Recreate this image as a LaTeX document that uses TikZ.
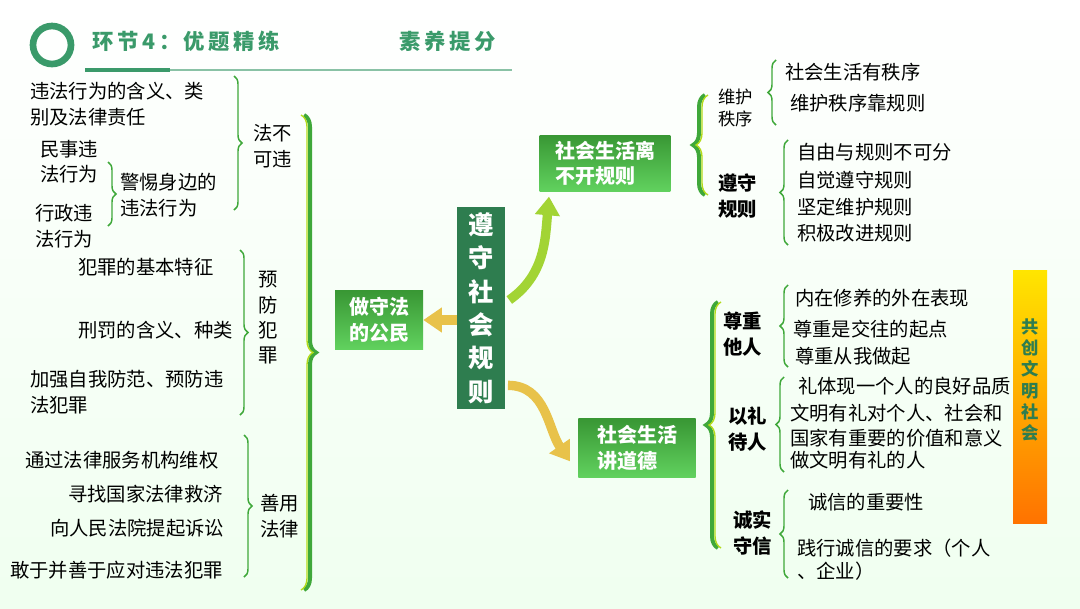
\documentclass[tikz,border=0pt]{standalone}
\usepackage{fontspec}
\setmainfont{Noto Sans CJK SC}
\usetikzlibrary{decorations.pathreplacing,arrows.meta,shadings}
\definecolor{dg}{HTML}{2E7D4F}
\definecolor{mg}{HTML}{3FA83A}
\definecolor{hg}{HTML}{3A9A6A}
\definecolor{gold}{HTML}{E8C24A}
\tikzset{
 txt/.style={anchor=west,font=\fontsize{14.5}{19}\selectfont,inner sep=0pt,align=left},
 btxt/.style={txt,font=\fontsize{14.5}{19}\selectfont\bfseries},
 brR/.style={decorate,decoration={brace,amplitude=6pt},draw=mg,line width=1.1pt},
 bigbr/.style={decorate,decoration={brace,amplitude=9pt},draw=mg,line width=3pt},
 bigbry/.style={decorate,decoration={brace,amplitude=9pt},draw=yellow!70!green,line width=1pt},
 gbox/.style={inner sep=3pt,text=white,font=\fontsize{15}{19}\selectfont\bfseries,align=left,top color=mg!90!black,bottom color=mg!70!green!75,draw=none},
 garrow/.style={line width=7pt,draw=gold,-{Triangle[width=18pt,length=14pt]}},
}
\begin{document}
\begin{tikzpicture}[x=0.75pt,y=-0.75pt]
\useasboundingbox (0,0) rectangle (1080,608);
\shade[top color=white,bottom color=green!6] (0,0) rectangle (1080,608);
% header
\draw[hg,line width=5pt] (52,45) circle (19);
\node[anchor=west,text=hg,font=\fontsize{16}{18}\selectfont\bfseries] (t1) at (88,41) {环\,节\,4\,：\,优\,题\,精\,练};
\node[anchor=west,text=hg,font=\fontsize{16}{18}\selectfont\bfseries] (t2) at (395,41) {素\,养\,提\,分};
\draw[hg!60,line width=0.8pt] (85,70) -- (512,70);
\draw[hg,line width=3pt] (85,70) -- (170,70);
% left part
\node[txt] (a1) at (30,104) {违法行为的含义、类\\别及法律责任};
\node[txt] (a2) at (40,162) {民事违\\法行为};
\node[txt] (a3) at (35,226) {行政违\\法行为};
\node[txt] (a4) at (120,195) {警惕身边的\\违法行为};
\draw[brR] (108,162) -- (108,226);
\draw[brR] (234,76) -- (234,210);
\node[txt] (b1) at (253,146) {法不\\可违};
\node[txt] (c1) at (78,267) {犯罪的基本特征};
\node[txt] (c2) at (78,330) {刑罚的含义、种类};
\node[txt] (c3) at (30,392) {加强自我防范、预防违\\法犯罪};
\draw[brR] (240,250) -- (240,415);
\node[txt] (b2) at (258,318) {预\\防\\犯\\罪};
\node[txt] (d1) at (25,460) {通过法律服务机构维权};
\node[txt] (d2) at (68,494) {寻找国家法律救济};
\node[txt] (d3) at (50,528) {向人民法院提起诉讼};
\node[txt] (d4) at (10,570) {敢于并善于应对违法犯罪};
\draw[brR] (244,435) -- (244,577);
\node[txt] (b3) at (260,516) {善用\\法律};
\draw[bigbr] (304,115) -- (304,590);
\draw[bigbry] (301,115) -- (301,590);
% centre
\node[gbox,minimum width=66pt,minimum height=44pt] (cit) at (379,320) {做守法\\的公民};
\node[fill=dg,text=white,font=\fontsize{19}{25}\selectfont\bfseries,align=center,minimum width=36pt,minimum height=152pt,inner sep=2pt] (rule) at (481,308) {遵\\守\\社\\会\\规\\则};
\node[gbox,minimum width=98pt,minimum height=42pt] (r1) at (605,163) {社会生活离\\不开规则};
\node[gbox,minimum width=88pt,minimum height=44pt] (r2) at (637,448) {社会生活\\讲道德};
\draw[garrow] ([yshift=-9pt]rule.west) -- (cit.east);
\coordinate (up0) at ([xshift=3pt,yshift=6pt]rule.east);
\coordinate (up1) at ([xshift=-42pt,yshift=-4pt]r1.south);
\draw[garrow,draw=gold!70!green] (up0) to[out=35,in=-95] (up1);
\coordinate (dn0) at ([xshift=2pt,yshift=-58pt]rule.east);
\draw[garrow] (dn0) to[out=0,in=125] ([xshift=-6pt,yshift=-10pt]r2.west);
% right top
\draw[bigbr] (705,195) -- (705,95);
\draw[bigbry] (708,195) -- (708,95);
\node[txt,font=\fontsize{13}{17}\selectfont] (e1) at (718,108) {维护\\秩序};
\draw[brR] (776,125) -- (776,60);
\node[txt] (e11) at (785,72) {社会生活有秩序};
\node[txt] (e12) at (790,103) {维护秩序靠规则};
\node[btxt] (e2) at (718,196) {遵守\\规则};
\draw[brR] (788,245) -- (788,140);
\node[txt] (e21) at (797,152) {自由与规则不可分};
\node[txt] (e22) at (797,180) {自觉遵守规则};
\node[txt] (e23) at (797,207) {坚定维护规则};
\node[txt] (e24) at (797,233) {积极改进规则};
% right bottom
\draw[bigbr] (718,548) -- (718,302);
\draw[bigbry] (721,548) -- (721,302);
\node[btxt] (f1) at (723,334) {尊重\\他人};
\draw[brR] (788,367) -- (788,285);
\node[txt] (f11) at (795,298) {内在修养的外在表现};
\node[txt] (f12) at (793,329) {尊重是交往的起点};
\node[txt] (f13) at (795,356) {尊重从我做起};
\node[btxt] (f2) at (728,429) {以礼\\待人};
\draw[brR] (784,472) -- (784,377);
\node[txt] (f21) at (798,386) {礼体现一个人的良好品质};
\node[txt] (f22) at (790,413) {文明有礼对个人、社会和};
\node[txt] (f23) at (790,438) {国家有重要的价值和意义};
\node[txt] (f24) at (790,460) {做文明有礼的人};
\node[btxt] (f3) at (733,533) {诚实\\守信};
\draw[brR] (788,578) -- (788,490);
\node[txt] (f31) at (808,502) {诚信的重要性};
\node[txt] (f32) at (797,548) {践行诚信的要求（个人};
\node[txt] (f33) at (797,571) {、企业）};
% side banner
\shade[top color=yellow!80!orange,bottom color=orange!90!red] (1013,270) rectangle (1047,523);
\node[text=dg,font=\fontsize{13}{16}\selectfont\bfseries,align=center] (ban) at (1030,380) {共\\创\\文\\明\\社\\会};
\end{tikzpicture}
\end{document}
